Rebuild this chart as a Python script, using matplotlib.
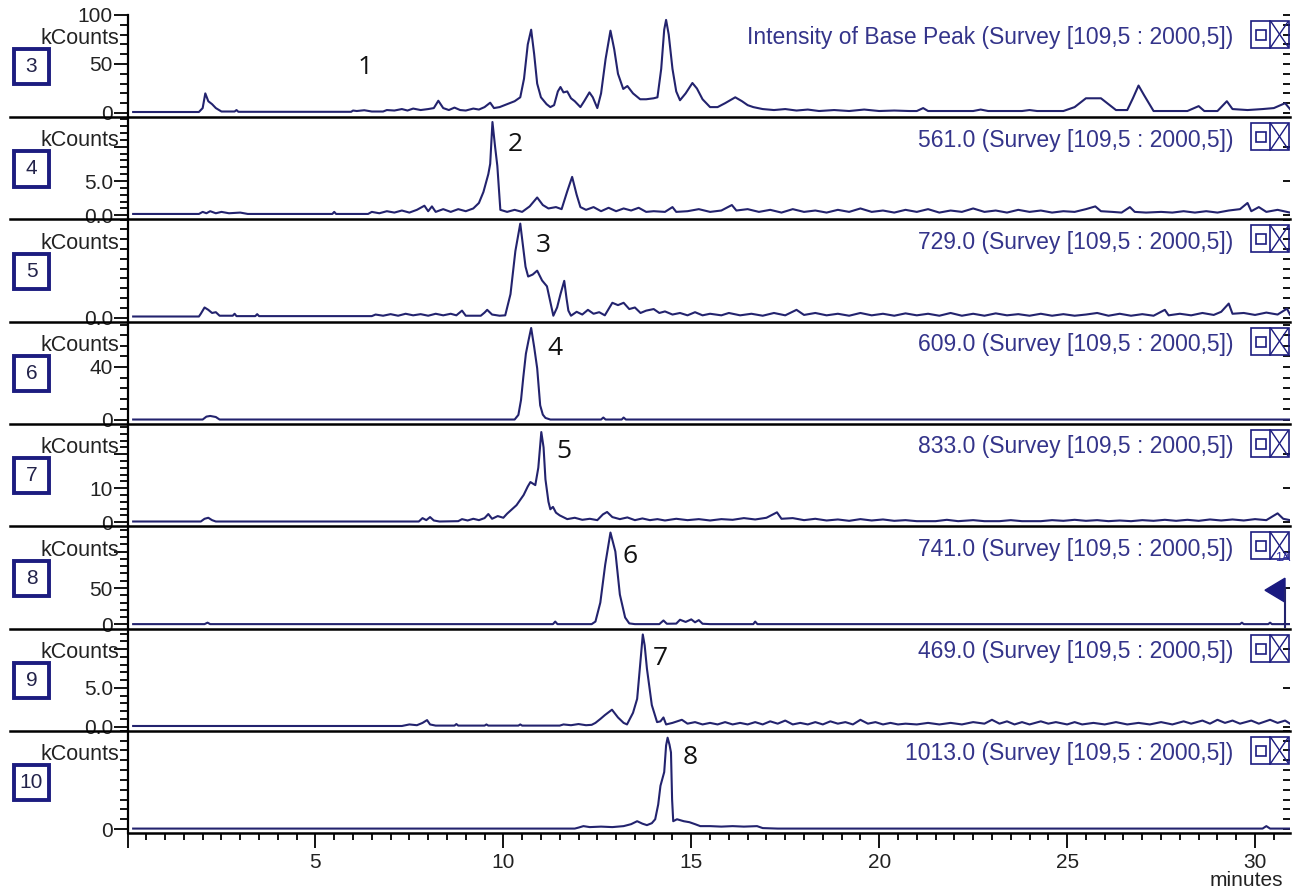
"""Stacked LC-MS chromatograms: base peak trace plus seven extracted ion traces."""

import matplotlib

matplotlib.use("Agg")

import matplotlib.pyplot as plt
import numpy as np
from matplotlib.lines import Line2D
from matplotlib.patches import Polygon, Rectangle
from matplotlib.ticker import FixedLocator, MultipleLocator, NullLocator

plt.rcParams["font.family"] = ["Liberation Sans", "DejaVu Sans"]

FIG_W, FIG_H = 1301, 891
AX_LEFT, AX_RIGHT = 127.5, 1290.0
PANEL_TOP0 = 14.7
PANEL_H = 102.3
X_MAX = 30.93

TRACE_COLOR = "#23236e"
TITLE_COLOR = "#34348a"
BOX_COLOR = "#1c1c80"
TEXT_COLOR = "#222222"

SEGMENT_IDS = [3, 4, 5, 6, 7, 8, 9, 10]
TITLES = [
    "Intensity of Base Peak (Survey [109,5 : 2000,5])",
    "561.0 (Survey [109,5 : 2000,5])",
    "729.0 (Survey [109,5 : 2000,5])",
    "609.0 (Survey [109,5 : 2000,5])",
    "833.0 (Survey [109,5 : 2000,5])",
    "741.0 (Survey [109,5 : 2000,5])",
    "469.0 (Survey [109,5 : 2000,5])",
    "1013.0 (Survey [109,5 : 2000,5])",
]

# (time in minutes, intensity in kCounts)
TRACE_BPI = [
    (0.15, 1.0), (1.9, 1.0), (2.0, 5), (2.07, 20), (2.15, 12), (2.25, 9), (2.35, 5), (2.5, 1.5),
    (2.85, 1.5), (2.9, 3), (2.95, 1.2), (5.95, 1.2), (6.0, 2.5), (6.1, 2), (6.3, 2.8), (6.5, 1.5),
    (6.8, 1.5), (6.9, 3), (7.1, 2.5), (7.3, 4), (7.45, 2.5), (7.6, 4.5), (7.8, 3), (8.0, 4),
    (8.15, 5), (8.27, 12.5), (8.4, 5), (8.55, 3), (8.7, 5.5), (8.85, 3), (9.0, 2.5), (9.2, 4.5),
    (9.35, 3.5), (9.5, 6), (9.65, 10.5), (9.75, 5), (9.9, 6), (10.1, 9), (10.3, 12), (10.45, 16),
    (10.55, 35), (10.65, 70), (10.74, 85), (10.82, 60), (10.9, 30), (11.0, 16), (11.15, 9),
    (11.25, 6), (11.35, 8), (11.45, 22), (11.52, 26.5), (11.6, 21), (11.7, 22), (11.8, 15),
    (11.9, 12), (12.05, 6), (12.15, 12), (12.29, 21), (12.38, 16), (12.5, 5), (12.6, 20),
    (12.72, 55), (12.85, 84), (12.95, 65), (13.05, 40), (13.19, 24.5), (13.3, 27.5), (13.45, 20),
    (13.64, 14), (13.8, 14), (14.0, 15), (14.1, 16), (14.2, 45), (14.28, 85), (14.33, 95),
    (14.4, 80), (14.5, 45), (14.6, 22), (14.7, 13), (14.85, 20), (15.03, 30.6), (15.15, 25),
    (15.3, 14), (15.5, 6), (15.7, 6), (15.9, 10), (16.17, 16), (16.35, 12), (16.5, 8), (16.65, 6),
    (16.9, 4), (17.2, 3), (17.5, 4), (17.8, 2.5), (18.1, 3.5), (18.4, 2), (18.8, 3), (19.2, 2),
    (19.6, 3.5), (20.0, 2), (20.4, 2.5), (20.8, 2), (21.0, 2), (21.17, 5), (21.3, 2), (22.0, 2),
    (22.5, 2), (22.7, 3.5), (22.9, 2), (23.5, 2), (23.8, 2), (24.0, 3), (24.2, 2), (24.9, 2),
    (25.2, 6), (25.5, 15), (25.9, 15), (26.1, 9), (26.3, 3), (26.6, 3), (26.75, 15), (26.9, 28),
    (27.05, 18), (27.3, 2), (28.2, 2), (28.5, 7), (28.65, 2), (29.0, 2), (29.25, 12), (29.4, 4),
    (29.8, 3), (30.2, 4), (30.5, 5), (30.8, 10), (30.93, 4),
]

TRACE_561 = [
    (0.15, 0.2), (1.9, 0.2), (2.0, 0.5), (2.1, 0.3), (2.2, 0.6), (2.35, 0.3), (2.5, 0.5),
    (2.7, 0.3), (3.0, 0.4), (3.2, 0.2), (5.45, 0.2), (5.5, 0.5), (5.55, 0.2), (6.4, 0.2),
    (6.5, 0.5), (6.7, 0.3), (6.9, 0.6), (7.1, 0.4), (7.3, 0.7), (7.5, 0.4), (7.7, 0.8), (7.9, 1.4),
    (8.0, 0.6), (8.1, 1.3), (8.2, 0.5), (8.4, 0.9), (8.6, 0.5), (8.8, 0.9), (9.0, 0.6), (9.2, 1.0),
    (9.35, 1.8), (9.47, 3.4), (9.6, 6.0), (9.65, 7.5), (9.71, 13.6), (9.78, 10), (9.84, 7.2),
    (9.92, 0.8), (10.1, 0.5), (10.3, 0.8), (10.5, 0.5), (10.7, 1.3), (10.9, 2.6), (11.05, 1.5),
    (11.2, 1.0), (11.4, 1.2), (11.55, 0.9), (11.7, 3.5), (11.83, 5.6), (11.95, 3.0), (12.05, 1.2),
    (12.2, 0.8), (12.4, 1.2), (12.6, 0.6), (12.8, 1.1), (13.0, 0.6), (13.2, 1.0), (13.4, 0.7),
    (13.6, 1.1), (13.8, 0.5), (14.0, 0.6), (14.3, 0.5), (14.5, 1.2), (14.6, 0.5), (14.9, 0.6),
    (15.2, 0.9), (15.5, 0.5), (15.8, 0.7), (16.08, 1.5), (16.2, 0.7), (16.5, 0.9), (16.8, 0.5),
    (17.1, 0.8), (17.4, 0.4), (17.7, 0.9), (18.0, 0.5), (18.3, 0.7), (18.6, 0.4), (18.9, 0.8),
    (19.2, 0.5), (19.5, 1.0), (19.8, 0.5), (20.1, 0.7), (20.4, 0.4), (20.7, 0.8), (21.0, 0.5),
    (21.3, 0.9), (21.6, 0.4), (21.9, 0.7), (22.2, 0.5), (22.5, 1.0), (22.8, 0.5), (23.1, 0.7),
    (23.4, 0.4), (23.7, 0.8), (24.0, 0.5), (24.3, 0.7), (24.6, 0.4), (24.9, 0.6), (25.2, 0.5),
    (25.5, 0.9), (25.75, 1.3), (25.9, 0.6), (26.2, 0.5), (26.45, 0.4), (26.67, 1.2), (26.8, 0.5),
    (27.1, 0.4), (27.5, 0.5), (27.8, 0.4), (28.1, 0.6), (28.4, 0.4), (28.7, 0.6), (29.0, 0.4),
    (29.3, 0.7), (29.6, 0.9), (29.8, 1.8), (29.9, 0.6), (30.1, 1.2), (30.3, 0.5), (30.6, 0.8),
    (30.93, 0.4),
]

TRACE_729 = [
    (0.15, 0.03), (1.9, 0.03), (1.95, 0.1), (2.05, 0.26), (2.15, 0.2), (2.25, 0.12), (2.35, 0.14),
    (2.45, 0.05), (2.8, 0.05), (2.85, 0.1), (2.9, 0.04), (3.4, 0.04), (3.45, 0.09), (3.5, 0.04),
    (6.5, 0.04), (6.6, 0.08), (6.8, 0.05), (7.0, 0.09), (7.2, 0.05), (7.4, 0.1), (7.6, 0.06),
    (7.8, 0.09), (8.0, 0.05), (8.2, 0.1), (8.4, 0.06), (8.6, 0.1), (8.75, 0.06), (8.9, 0.18),
    (9.0, 0.05), (9.4, 0.05), (9.5, 0.13), (9.57, 0.2), (9.7, 0.08), (9.9, 0.05), (10.05, 0.06),
    (10.19, 0.6), (10.32, 1.7), (10.45, 2.4), (10.59, 1.3), (10.66, 1.05), (10.78, 1.1),
    (10.9, 1.2), (11.03, 0.95), (11.16, 0.8), (11.33, 0.05), (11.43, 0.26), (11.52, 0.6),
    (11.62, 0.94), (11.68, 0.5), (11.73, 0.18), (11.8, 0.05), (11.95, 0.15), (12.1, 0.08),
    (12.25, 0.2), (12.4, 0.1), (12.55, 0.14), (12.7, 0.06), (12.9, 0.38), (13.05, 0.32),
    (13.2, 0.38), (13.35, 0.22), (13.5, 0.26), (13.65, 0.12), (13.8, 0.18), (14.0, 0.22),
    (14.15, 0.12), (14.3, 0.16), (14.5, 0.08), (14.7, 0.12), (14.9, 0.06), (15.1, 0.14),
    (15.3, 0.06), (15.5, 0.1), (15.8, 0.06), (16.0, 0.12), (16.3, 0.06), (16.6, 0.1), (16.9, 0.05),
    (17.2, 0.12), (17.5, 0.06), (17.8, 0.2), (18.0, 0.07), (18.3, 0.12), (18.6, 0.06), (18.9, 0.1),
    (19.2, 0.05), (19.5, 0.12), (19.8, 0.06), (20.1, 0.1), (20.4, 0.05), (20.7, 0.11), (21.0, 0.06),
    (21.3, 0.1), (21.6, 0.05), (21.9, 0.12), (22.2, 0.05), (22.5, 0.1), (22.8, 0.05), (23.1, 0.11),
    (23.4, 0.06), (23.7, 0.09), (24.0, 0.05), (24.3, 0.1), (24.6, 0.05), (24.9, 0.09), (25.2, 0.05),
    (25.5, 0.08), (25.8, 0.12), (26.1, 0.05), (26.4, 0.1), (26.7, 0.05), (27.0, 0.09), (27.3, 0.05),
    (27.6, 0.2), (27.7, 0.06), (28.0, 0.1), (28.3, 0.06), (28.6, 0.12), (28.9, 0.07), (29.1, 0.15),
    (29.3, 0.36), (29.4, 0.1), (29.7, 0.12), (30.0, 0.07), (30.3, 0.13), (30.6, 0.08),
    (30.85, 0.23), (30.93, 0.08),
]

TRACE_609 = [
    (0.15, 0.3), (2.0, 0.3), (2.1, 2.5), (2.2, 3.0), (2.35, 2.2), (2.45, 0.3), (10.3, 0.3),
    (10.4, 3.8), (10.47, 15), (10.53, 32), (10.6, 50), (10.67, 60), (10.74, 69.4), (10.82, 55),
    (10.9, 39), (10.98, 11), (11.05, 4), (11.12, 1.5), (11.25, 0.3), (12.6, 0.3), (12.66, 1.8),
    (12.72, 0.3), (13.15, 0.3), (13.2, 1.8), (13.26, 0.3), (30.93, 0.3),
]

TRACE_833 = [
    (0.15, 0.2), (1.95, 0.2), (2.05, 1.0), (2.15, 1.3), (2.25, 0.6), (2.35, 0.2), (7.75, 0.2),
    (7.85, 1.2), (7.95, 0.6), (8.05, 1.5), (8.15, 0.5), (8.3, 0.2), (8.8, 0.3), (8.9, 0.9),
    (9.05, 0.5), (9.2, 1.0), (9.35, 0.6), (9.5, 1.2), (9.6, 2.4), (9.7, 1.0), (9.85, 1.8),
    (10.0, 1.3), (10.1, 2.5), (10.23, 3.8), (10.35, 5.0), (10.54, 8.0), (10.65, 10.5),
    (10.72, 11.8), (10.85, 10.9), (10.93, 16), (11.01, 26.5), (11.07, 22), (11.12, 12.6),
    (11.2, 6), (11.25, 3.8), (11.32, 4.5), (11.4, 2.8), (11.5, 2.0), (11.7, 0.9), (11.9, 1.3),
    (12.1, 0.7), (12.3, 1.0), (12.5, 0.6), (12.65, 2.3), (12.76, 3.0), (12.9, 1.5), (13.1, 0.9),
    (13.3, 1.4), (13.5, 0.6), (13.7, 1.1), (13.9, 0.6), (14.1, 0.9), (14.3, 0.5), (14.6, 1.0),
    (14.9, 0.6), (15.2, 0.9), (15.5, 0.5), (15.8, 0.9), (16.1, 0.7), (16.4, 1.2), (16.7, 0.8),
    (17.0, 1.3), (17.28, 2.9), (17.4, 1.0), (17.7, 1.2), (18.0, 0.6), (18.3, 1.0), (18.6, 0.5),
    (18.9, 0.8), (19.2, 0.4), (19.5, 0.9), (19.8, 0.5), (20.1, 0.8), (20.4, 0.4), (20.7, 0.6),
    (21.0, 0.3), (21.5, 0.3), (21.8, 0.7), (22.1, 0.3), (22.5, 0.6), (22.8, 0.3), (23.2, 0.3),
    (23.5, 0.6), (23.8, 0.3), (24.3, 0.3), (24.6, 0.6), (24.9, 0.4), (25.2, 0.7), (25.5, 0.4),
    (25.8, 0.6), (26.1, 0.3), (26.4, 0.5), (26.7, 0.3), (27.0, 0.6), (27.3, 0.4), (27.6, 0.7),
    (27.9, 0.4), (28.2, 0.7), (28.5, 0.4), (28.8, 0.8), (29.1, 0.5), (29.4, 0.8), (29.7, 0.5),
    (30.0, 0.9), (30.3, 0.6), (30.6, 2.6), (30.75, 1.0), (30.93, 0.6),
]

TRACE_741 = [
    (0.15, 0.5), (2.05, 0.5), (2.13, 2.5), (2.2, 0.5), (11.32, 0.5), (11.38, 4), (11.44, 0.5),
    (12.35, 0.5), (12.45, 4), (12.58, 30), (12.71, 82), (12.85, 126), (12.98, 100), (13.1, 41),
    (13.24, 9.6), (13.35, 1.5), (13.5, 0.5), (14.15, 0.5), (14.26, 5.5), (14.35, 1), (14.6, 1.2),
    (14.7, 6.5), (14.85, 3.5), (15.0, 7), (15.1, 3), (15.2, 6), (15.3, 1), (15.5, 0.5),
    (16.65, 0.5), (16.7, 4), (16.76, 0.5), (29.6, 0.5), (29.65, 2.5), (29.7, 0.5), (30.35, 0.5),
    (30.4, 2.5), (30.45, 0.5), (30.93, 0.5),
]

TRACE_469 = [
    (0.15, 0.1), (7.3, 0.1), (7.5, 0.3), (7.7, 0.2), (7.85, 0.5), (7.97, 0.86), (8.05, 0.3),
    (8.2, 0.15), (8.7, 0.15), (8.75, 0.35), (8.8, 0.15), (9.5, 0.15), (9.55, 0.3), (9.6, 0.15),
    (10.4, 0.15), (10.45, 0.3), (10.5, 0.15), (11.5, 0.15), (11.6, 0.3), (11.8, 0.2), (12.0, 0.35),
    (12.2, 0.2), (12.35, 0.25), (12.45, 0.5), (12.58, 1.0), (12.7, 1.5), (12.89, 2.2), (13.05, 1.2),
    (13.2, 0.5), (13.29, 0.3), (13.45, 1.8), (13.56, 3.6), (13.64, 8.0), (13.71, 11.9),
    (13.76, 10.5), (13.82, 7.5), (13.95, 2.8), (14.09, 0.6), (14.18, 0.7), (14.26, 1.2),
    (14.33, 0.3), (14.5, 0.5), (14.75, 0.9), (14.9, 0.4), (15.1, 0.6), (15.3, 0.3), (15.5, 0.5),
    (15.7, 0.3), (15.9, 0.6), (16.1, 0.3), (16.3, 0.5), (16.5, 0.3), (16.7, 0.6), (16.9, 0.3),
    (17.1, 0.7), (17.3, 0.4), (17.5, 0.8), (17.7, 0.3), (17.9, 0.5), (18.1, 0.3), (18.3, 0.6),
    (18.5, 0.3), (18.7, 0.7), (18.9, 0.4), (19.1, 0.6), (19.3, 0.3), (19.5, 0.9), (19.7, 0.4),
    (19.9, 0.6), (20.1, 0.3), (20.3, 0.5), (20.5, 0.3), (20.7, 0.4), (21.0, 0.3), (21.3, 0.5),
    (21.6, 0.3), (21.9, 0.5), (22.2, 0.3), (22.5, 0.6), (22.8, 0.4), (23.0, 0.9), (23.2, 0.4),
    (23.4, 0.7), (23.6, 0.3), (23.8, 0.6), (24.0, 0.3), (24.3, 0.7), (24.5, 0.4), (24.7, 0.6),
    (25.0, 0.3), (25.2, 0.6), (25.4, 0.3), (25.7, 0.5), (26.0, 0.3), (26.3, 0.6), (26.6, 0.3),
    (26.9, 0.5), (27.2, 0.3), (27.5, 0.6), (27.8, 0.3), (28.1, 0.7), (28.3, 0.4), (28.6, 0.8),
    (28.8, 0.4), (29.0, 0.9), (29.2, 0.5), (29.4, 0.8), (29.6, 0.4), (29.9, 0.8), (30.1, 0.4),
    (30.4, 0.9), (30.6, 0.5), (30.8, 0.8), (30.93, 0.4),
]

TRACE_1013 = [
    (0.15, 0.05), (11.9, 0.05), (12.0, 0.15), (12.13, 0.3), (12.3, 0.2), (12.6, 0.25),
    (12.9, 0.2), (13.2, 0.3), (13.4, 0.5), (13.56, 0.8), (13.7, 0.55), (13.82, 0.4), (13.95, 0.6),
    (14.04, 1.0), (14.12, 2.5), (14.18, 4.4), (14.28, 5.8), (14.33, 8.5), (14.37, 9.3),
    (14.42, 8.6), (14.46, 7.8), (14.49, 3), (14.52, 0.8), (14.62, 1.0), (14.8, 0.8), (14.95, 0.7),
    (15.1, 0.5), (15.24, 0.3), (15.5, 0.3), (15.8, 0.25), (16.1, 0.3), (16.4, 0.25), (16.75, 0.3),
    (16.9, 0.1), (17.3, 0.05), (30.2, 0.05), (30.3, 0.3), (30.4, 0.05), (30.93, 0.05),
]

TRACES = [TRACE_BPI, TRACE_561, TRACE_729, TRACE_609, TRACE_833, TRACE_741, TRACE_469, TRACE_1013]

# y-range, labelled ticks and minor tick step for every segment
YLIMS = [(-4.1, 100.3), (-0.58, 14.33), (-0.1, 2.51), (-3.0, 74.2),
         (-1.18, 28.9), (-5.5, 134.7), (-0.52, 12.67), (-0.41, 10.0)]
MAJOR_TICKS = [[0, 50, 100], [0, 5, 10], [0], [0, 40], [0, 10, 20], [0, 50, 100], [0, 5, 10], [0]]
MAJOR_LABELS = [["0", "50", "100"], ["0.0", "5.0", ""], ["0.0"], ["0", "40"],
                ["0", "10", ""], ["0", "50", ""], ["0.0", "5.0", ""], ["0"]]
MINOR_STEP = [10, 1, 0.25, 8, 2, 10, 1, 1]
RIGHT_MINOR = [True, False, True, True, False, False, False, True]

# peak numbers written next to each compound
PEAK_NUMBERS = ["1", "2", "3", "4", "5", "6", "7", "8"]
PEAK_LABEL_T = [6.33, 10.32, 11.06, 11.38, 11.6, 13.38, 14.18, 14.97]
PEAK_LABEL_V = [46, 10.3, 1.84, 53.6, 20.9, 93.8, 8.8, 7.3]

X_MAJOR = [0, 5, 10, 15, 20, 25, 30]
X_LABELS = ["", "5", "10", "15", "20", "25", "30"]


def fx(x):
    return x / FIG_W


def fy(y):
    return 1.0 - y / FIG_H


def draw_icons(fig, top):
    """The little zoom/close button pair at the right of each segment."""
    x0, x1, xm = 1251, 1289, 1270
    y0, y1 = top + 6, top + 33
    fig.add_artist(Rectangle((fx(x0), fy(y1)), fx(x1 - x0), (y1 - y0) / FIG_H,
                             transform=fig.transFigure, fill=False,
                             edgecolor=BOX_COLOR, lw=1.2))
    fig.add_artist(Line2D([fx(xm), fx(xm)], [fy(y0), fy(y1)], transform=fig.transFigure,
                          color=BOX_COLOR, lw=1.2))
    fig.add_artist(Rectangle((fx(1256), fy(top + 25)), fx(10), 10 / FIG_H,
                             transform=fig.transFigure, fill=False,
                             edgecolor=BOX_COLOR, lw=1.2))
    fig.add_artist(Line2D([fx(xm + 1), fx(x1 - 1)], [fy(y0 + 1), fy(y1 - 1)],
                          transform=fig.transFigure, color=BOX_COLOR, lw=1.0))
    fig.add_artist(Line2D([fx(xm + 1), fx(x1 - 1)], [fy(y1 - 1), fy(y0 + 1)],
                          transform=fig.transFigure, color=BOX_COLOR, lw=1.0))


def draw_segment(fig, i):
    top = PANEL_TOP0 + i * PANEL_H
    bottom = top + PANEL_H
    last = i == len(TRACES) - 1

    ax = fig.add_axes([fx(AX_LEFT), fy(bottom), fx(AX_RIGHT - AX_LEFT), PANEL_H / FIG_H])
    t, v = np.array(TRACES[i]).T
    ax.plot(t, v, color=TRACE_COLOR, lw=1.5)
    ax.set_xlim(0, X_MAX)
    ax.set_ylim(*YLIMS[i])

    for side in ("top", "right"):
        ax.spines[side].set_visible(False)
    ax.spines["left"].set_linewidth(1.6)
    ax.spines["bottom"].set_visible(last)
    ax.spines["bottom"].set_linewidth(1.8)

    ax.yaxis.set_major_locator(FixedLocator(MAJOR_TICKS[i]))
    ax.set_yticklabels(MAJOR_LABELS[i])
    ax.yaxis.set_minor_locator(MultipleLocator(MINOR_STEP[i]))
    ax.tick_params(axis="y", which="major", direction="out", length=10, width=1.3,
                   pad=0.5, labelsize=15, labelcolor=TEXT_COLOR)
    ax.tick_params(axis="y", which="minor", direction="out", length=5.5, width=1.3)

    sec = ax.secondary_yaxis("right")
    sec.spines["right"].set_visible(False)
    sec.yaxis.set_major_locator(FixedLocator(MAJOR_TICKS[i]))
    if RIGHT_MINOR[i]:
        sec.yaxis.set_minor_locator(MultipleLocator(MINOR_STEP[i]))
    else:
        sec.yaxis.set_minor_locator(NullLocator())
    sec.tick_params(which="both", direction="in", length=5, width=1.3, labelright=False)

    if last:
        ax.xaxis.set_major_locator(FixedLocator(X_MAJOR))
        ax.set_xticklabels(X_LABELS)
        ax.xaxis.set_minor_locator(MultipleLocator(0.5))
        ax.tick_params(axis="x", which="major", direction="out", length=10.5, width=1.3,
                       pad=4, labelsize=15, labelcolor=TEXT_COLOR)
        ax.tick_params(axis="x", which="minor", direction="out", length=5, width=1.3)
    else:
        ax.set_xticks([])
        # separator running out under the segment number box
        fig.add_artist(Line2D([fx(10), fx(AX_RIGHT)], [fy(bottom), fy(bottom)],
                              transform=fig.transFigure, color="black", lw=1.8))

    ax.text(PEAK_LABEL_T[i], PEAK_LABEL_V[i], PEAK_NUMBERS[i], fontsize=19,
            family=["Open Sans", "DejaVu Sans"], color="#111111", ha="center", va="center")

    fig.text(fx(1233), fy(top + 23), TITLES[i], ha="right", va="center",
             fontsize=16.5, color=TITLE_COLOR)
    fig.text(fx(119), fy(top + 24), "kCounts", ha="right", va="center",
             fontsize=15.5, color=TEXT_COLOR)

    # segment number box
    cx, cy, half = 31.5, top + 52, 17.5
    fig.add_artist(Rectangle((fx(cx - half), fy(cy + half)), fx(2 * half), 2 * half / FIG_H,
                             transform=fig.transFigure, fill=False,
                             edgecolor=BOX_COLOR, lw=2.8))
    fig.text(fx(cx), fy(cy), str(SEGMENT_IDS[i]), ha="center", va="center",
             fontsize=15, color="#22224a")

    draw_icons(fig, top)
    return ax


def draw_marker_flag(fig):
    """Event flag at the right end of the 741.0 trace."""
    top = PANEL_TOP0 + 5 * PANEL_H
    base = top + PANEL_H - 2
    fig.add_artist(Line2D([fx(1285), fx(1285)], [fy(top + 62), fy(base)],
                          transform=fig.transFigure, color=TRACE_COLOR, lw=1.5))
    fig.add_artist(Polygon([(fx(1265), fy(top + 64)), (fx(1285), fy(top + 52)),
                            (fx(1285), fy(top + 76))], closed=True,
                           transform=fig.transFigure, color="#1a1a80"))
    fig.text(fx(1283), fy(top + 32), "1A", ha="center", va="center",
             fontsize=9, color="#2a2aa0")


def main():
    fig = plt.figure(figsize=(FIG_W / 100, FIG_H / 100), dpi=100)
    fig.patch.set_facecolor("white")

    for i in range(len(TRACES)):
        draw_segment(fig, i)

    draw_marker_flag(fig)
    fig.text(fx(1246), fy(880), "minutes", ha="center", va="center",
             fontsize=15, color=TEXT_COLOR)

    fig.savefig("out.png", dpi=100)
    plt.close(fig)


if __name__ == "__main__":
    main()
